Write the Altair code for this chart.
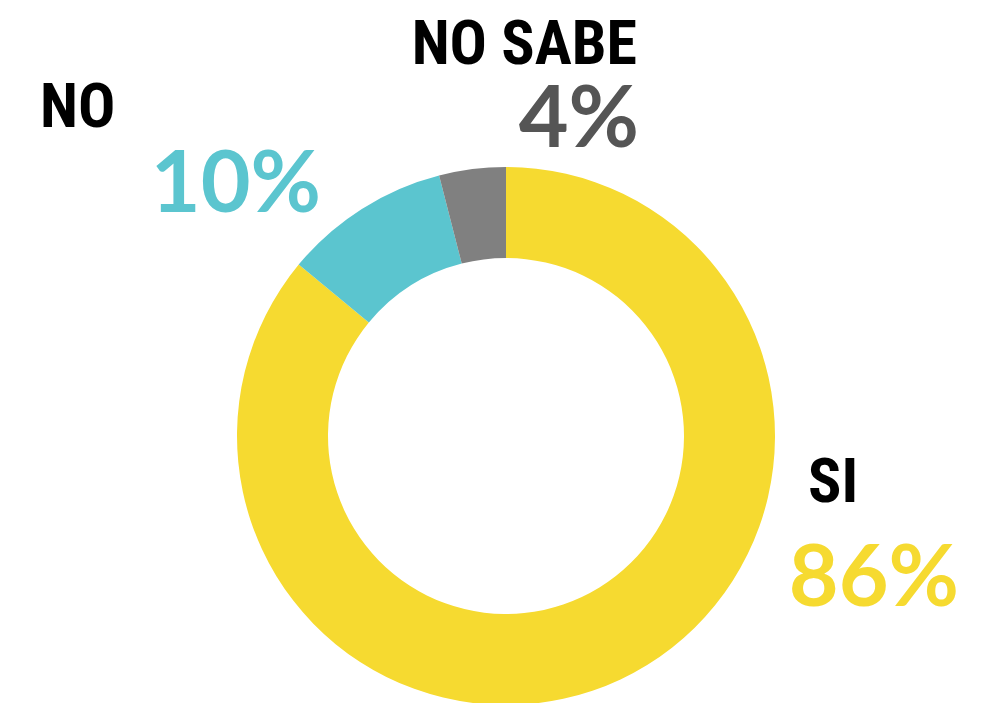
import altair as alt
import pandas as pd

categories = ["SI", "NO", "NO SABE"]
values = [86, 10, 4]
colors = ["#F6DA30", "#5BC5CF", "#808080"]
pct_colors = ["#F6DA30", "#5BC5CF", "#555555"]

df = pd.DataFrame({
    "category": categories,
    "value": values,
    "order": list(range(len(categories))),
})

CX, CY = 498, 428
base = alt.Chart(df)

arc = base.mark_arc(outerRadius=269, innerRadius=178, stroke=None).encode(
    theta=alt.Theta("value:Q", stack=True),
    order=alt.Order("order:Q"),
    color=alt.Color("category:N", scale=alt.Scale(domain=categories, range=colors), legend=None),
    x=alt.value(CX),
    y=alt.value(CY),
)

label_font = "Roboto Condensed, Liberation Sans Narrow, DejaVu Sans Condensed, Roboto"
pct_font = "Lato, Noto Sans, sans-serif"

# (category, x, y, align) for names and percents
name_pos = {"SI": (800, 494, "left"), "NO": (32, 119, "left"), "NO SABE": (629, 56, "right")}
pct_pos = {"SI": (951, 598, "right"), "NO": (313, 204, "right"), "NO SABE": (631, 139, "right")}

layers = [arc]
for cat, pc in zip(categories, pct_colors):
    nx, ny, na = name_pos[cat]
    layers.append(
        base.transform_filter(alt.datum.category == cat)
        .mark_text(font=label_font, fontWeight="bold", fontSize=62, color="#000000",
                   align=na, baseline="alphabetic")
        .encode(text="category:N", x=alt.value(nx), y=alt.value(ny))
    )
    px, py, pa = pct_pos[cat]
    layers.append(
        base.transform_filter(alt.datum.category == cat)
        .transform_calculate(pct="datum.value + '%'")
        .mark_text(font=pct_font, fontWeight="bold", fontSize=86, color=pc,
                   align=pa, baseline="alphabetic")
        .encode(text="pct:N", x=alt.value(px), y=alt.value(py))
    )

chart = alt.layer(*layers).properties(
    width=965, height=695,
    autosize=alt.AutoSizeParams(type="none"),
    padding=0,
).configure_view(stroke=None)

chart.save("out.html", embed_options={"renderer": "svg", "actions": False})
